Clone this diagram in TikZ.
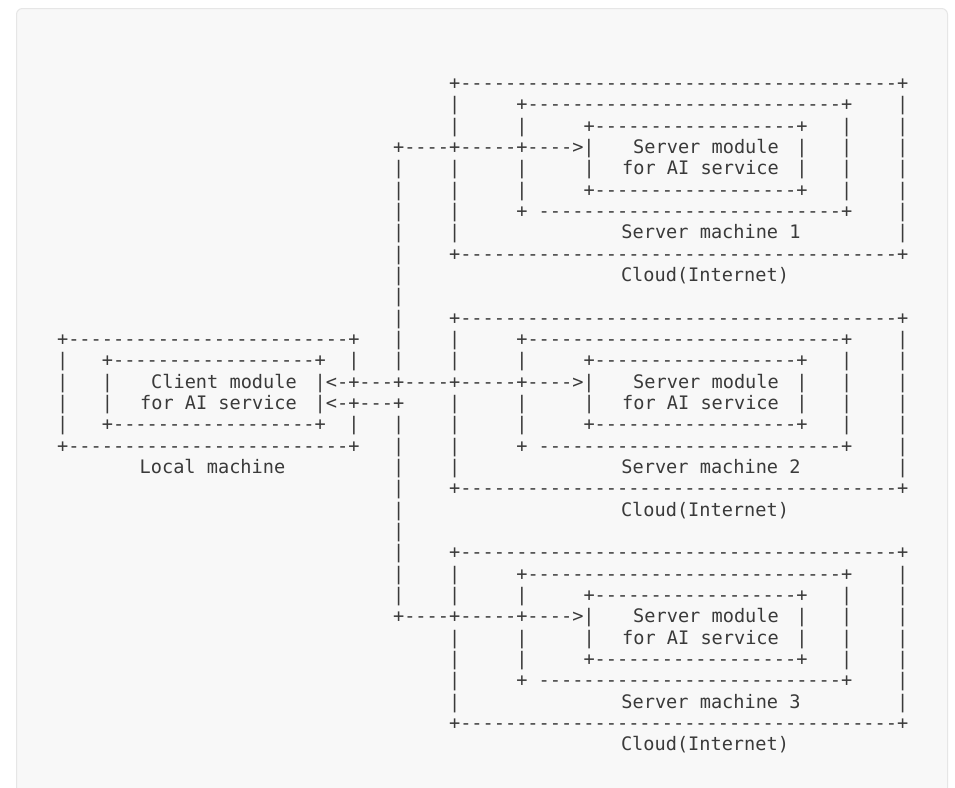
\documentclass[tikz,border=0pt]{standalone}
\usepackage{fontspec}
\newfontfamily\asciimono{DejaVu Sans Mono}
\ExplSyntaxOn
\cs_new:Npn \ascrep #1#2 { \prg_replicate:nn {#1} {#2} }
\ExplSyntaxOff
% one character cell of the monospaced grid
\newdimen\cellw \cellw=11.2pt
% put #2 starting at column #1 of the current row
\newcommand\atcol[2]{\rlap{\kern#1\cellw\relax#2}}
% box edges made of ASCII characters
\newcommand\outerl{+\ascrep{39}{-}+}
\newcommand\midl{+\ascrep{28}{-}+}
\newcommand\innerl{+\ascrep{18}{-}+}
\newcommand\midbl{+\kern\cellw\ascrep{27}{-}+}
\newcommand\localbl{+\ascrep{25}{-}+}
\newcommand\rowy[1]{89.5+21.33*#1}
\definecolor{ink}{HTML}{3A3A3A}
\definecolor{panel}{HTML}{F8F8F8}
\definecolor{panelrule}{HTML}{E6E6E6}
\tikzset{
  asciirow/.style={font=\asciimono\fontsize{18.603pt}{21.33pt}\selectfont,
    text=ink, inner sep=0pt, anchor=base west},
  asciilabel/.style={asciirow, anchor=base},
}
\begin{document}
\begin{tikzpicture}[x=1pt,y=-1pt]
\useasboundingbox (0,0) rectangle (955,787);
\clip (0,0) rectangle (955,787);
\fill[white] (0,0) rectangle (955,787);
\draw[fill=panel, draw=panelrule, line width=1pt, rounded corners=6pt]
  (16.5,8.5) rectangle (947.5,810);

% ---- rows of the ASCII drawing (column 0 starts at x = 56.4)
\node[asciirow] (row0)  at (56.4,{\rowy{0}})  {\atcol{35}{\outerl}};
\node[asciirow] (row1)  at (56.4,{\rowy{1}})  {\atcol{35}{|}\atcol{41}{\midl}\atcol{75}{|}};
\node[asciirow] (row2)  at (56.4,{\rowy{2}})  {\atcol{35}{|}\atcol{41}{|}\atcol{47}{\innerl}\atcol{70}{|}\atcol{75}{|}};
\node[asciirow] (row3)  at (56.4,{\rowy{3}})  {\atcol{30}{+----+-----+---->|}\atcol{66}{|}\atcol{70}{|}\atcol{75}{|}};
\node[asciirow] (row4)  at (56.4,{\rowy{4}})  {\atcol{30}{|}\atcol{35}{|}\atcol{41}{|}\atcol{47}{|}\atcol{66}{|}\atcol{70}{|}\atcol{75}{|}};
\node[asciirow] (row5)  at (56.4,{\rowy{5}})  {\atcol{30}{|}\atcol{35}{|}\atcol{41}{|}\atcol{47}{\innerl}\atcol{70}{|}\atcol{75}{|}};
\node[asciirow] (row6)  at (56.4,{\rowy{6}})  {\atcol{30}{|}\atcol{35}{|}\atcol{41}{\midbl}\atcol{75}{|}};
\node[asciirow] (row7)  at (56.4,{\rowy{7}})  {\atcol{30}{|}\atcol{35}{|}\atcol{75}{|}};
\node[asciirow] (row8)  at (56.4,{\rowy{8}})  {\atcol{30}{|}\atcol{35}{\outerl}};
\node[asciirow] (row9)  at (56.4,{\rowy{9}})  {\atcol{30}{|}};
\node[asciirow] (row10) at (56.4,{\rowy{10}}) {\atcol{30}{|}};
\node[asciirow] (row11) at (56.4,{\rowy{11}}) {\atcol{30}{|}\atcol{35}{\outerl}};
\node[asciirow] (row12) at (56.4,{\rowy{12}}) {\atcol{0}{\localbl}\atcol{30}{|}\atcol{35}{|}\atcol{41}{\midl}\atcol{75}{|}};
\node[asciirow] (row13) at (56.4,{\rowy{13}}) {\atcol{0}{|}\atcol{4}{\innerl}\atcol{26}{|}\atcol{30}{|}\atcol{35}{|}\atcol{41}{|}\atcol{47}{\innerl}\atcol{70}{|}\atcol{75}{|}};
\node[asciirow] (row14) at (56.4,{\rowy{14}}) {\atcol{0}{|}\atcol{4}{|}\atcol{23}{|<-+---+----+-----+---->|}\atcol{66}{|}\atcol{70}{|}\atcol{75}{|}};
\node[asciirow] (row15) at (56.4,{\rowy{15}}) {\atcol{0}{|}\atcol{4}{|}\atcol{23}{|<-+---+}\atcol{35}{|}\atcol{41}{|}\atcol{47}{|}\atcol{66}{|}\atcol{70}{|}\atcol{75}{|}};
\node[asciirow] (row16) at (56.4,{\rowy{16}}) {\atcol{0}{|}\atcol{4}{\innerl}\atcol{26}{|}\atcol{30}{|}\atcol{35}{|}\atcol{41}{|}\atcol{47}{\innerl}\atcol{70}{|}\atcol{75}{|}};
\node[asciirow] (row17) at (56.4,{\rowy{17}}) {\atcol{0}{\localbl}\atcol{30}{|}\atcol{35}{|}\atcol{41}{\midbl}\atcol{75}{|}};
\node[asciirow] (row18) at (56.4,{\rowy{18}}) {\atcol{30}{|}\atcol{35}{|}\atcol{75}{|}};
\node[asciirow] (row19) at (56.4,{\rowy{19}}) {\atcol{30}{|}\atcol{35}{\outerl}};
\node[asciirow] (row20) at (56.4,{\rowy{20}}) {\atcol{30}{|}};
\node[asciirow] (row21) at (56.4,{\rowy{21}}) {\atcol{30}{|}};
\node[asciirow] (row22) at (56.4,{\rowy{22}}) {\atcol{30}{|}\atcol{35}{\outerl}};
\node[asciirow] (row23) at (56.4,{\rowy{23}}) {\atcol{30}{|}\atcol{35}{|}\atcol{41}{\midl}\atcol{75}{|}};
\node[asciirow] (row24) at (56.4,{\rowy{24}}) {\atcol{30}{|}\atcol{35}{|}\atcol{41}{|}\atcol{47}{\innerl}\atcol{70}{|}\atcol{75}{|}};
\node[asciirow] (row25) at (56.4,{\rowy{25}}) {\atcol{30}{+----+-----+---->|}\atcol{66}{|}\atcol{70}{|}\atcol{75}{|}};
\node[asciirow] (row26) at (56.4,{\rowy{26}}) {\atcol{35}{|}\atcol{41}{|}\atcol{47}{|}\atcol{66}{|}\atcol{70}{|}\atcol{75}{|}};
\node[asciirow] (row27) at (56.4,{\rowy{27}}) {\atcol{35}{|}\atcol{41}{|}\atcol{47}{\innerl}\atcol{70}{|}\atcol{75}{|}};
\node[asciirow] (row28) at (56.4,{\rowy{28}}) {\atcol{35}{|}\atcol{41}{\midbl}\atcol{75}{|}};
\node[asciirow] (row29) at (56.4,{\rowy{29}}) {\atcol{35}{|}\atcol{75}{|}};
\node[asciirow] (row30) at (56.4,{\rowy{30}}) {\atcol{35}{\outerl}};

% ---- labels inside the boxes
\node[asciilabel] (srvmodA)  at (706,{\rowy{3}})   {Server module};
\node[asciilabel] (srvsvcA)  at (700.5,{\rowy{4}}) {for AI service};
\node[asciilabel] (machA)    at (711,{\rowy{7}})   {Server machine 1};
\node[asciilabel] (cloudA)   at (705,{\rowy{9}})   {Cloud(Internet)};

\node[asciilabel] (srvmodB)  at (706,{\rowy{14}})  {Server module};
\node[asciilabel] (srvsvcB)  at (700.5,{\rowy{15}}){for AI service};
\node[asciilabel] (machB)    at (711,{\rowy{18}})  {Server machine 2};
\node[asciilabel] (cloudB)   at (705,{\rowy{20}})  {Cloud(Internet)};

\node[asciilabel] (srvmodC)  at (706,{\rowy{25}})  {Server module};
\node[asciilabel] (srvsvcC)  at (700.5,{\rowy{26}}){for AI service};
\node[asciilabel] (machC)    at (711,{\rowy{29}})  {Server machine 3};
\node[asciilabel] (cloudC)   at (705,{\rowy{31}})  {Cloud(Internet)};

\node[asciilabel] (climod)   at (224,{\rowy{14}})  {Client module};
\node[asciilabel] (clisvc)   at (218.5,{\rowy{15}}){for AI service};
\node[asciilabel] (localm)   at (212.5,{\rowy{18}}){Local machine};
\end{tikzpicture}
\end{document}
